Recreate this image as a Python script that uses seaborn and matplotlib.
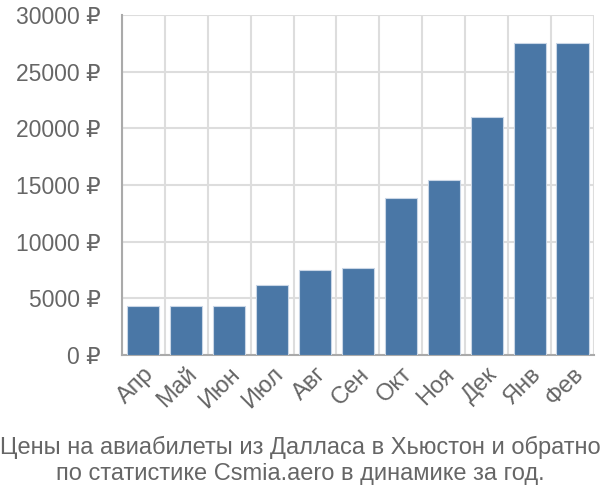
import matplotlib
matplotlib.use('Agg')
import matplotlib.pyplot as plt
import seaborn as sns
import pandas as pd
from matplotlib.ticker import FuncFormatter, MultipleLocator

# данные
months = ['Апр', 'Май', 'Июн', 'Июл', 'Авг', 'Сен', 'Окт', 'Ноя', 'Дек', 'Янв', 'Фев']
prices = [4300, 4300, 4300, 6180, 7480, 7680, 13850, 15430, 21000, 27500, 27500]
title_lines = ['Цены на авиабилеты из Далласа в Хьюстон и обратно',
               'по статистике Csmia.aero в динамике за год.']

sns.set_style('white')
plt.rcParams['font.family'] = ['Liberation Sans', 'DejaVu Sans']

df = pd.DataFrame({'month': months, 'price': prices})

fig = plt.figure(figsize=(6, 5), dpi=100)
ax = fig.add_axes([0.203, 0.29, 0.787, 0.68])
sns.barplot(data=df, x='month', y='price', color='#4a77a6', saturation=1,
            width=0.75, edgecolor='#c9d6e6', linewidth=0.8, ax=ax, zorder=3)

ax.set_xlim(-0.5, len(months) - 0.5)
ax.set_ylim(0, 30000)
ax.yaxis.set_major_locator(MultipleLocator(5000))
ax.yaxis.set_major_formatter(FuncFormatter(lambda v, p: f'{int(v)} ₽'))

# вертикальная сетка по границам категорий
ax.set_xticks([i - 0.5 for i in range(len(months) + 1)], minor=True)
ax.grid(True, which='minor', axis='x', color='#dddddd', linewidth=1.5, zorder=0)
ax.grid(True, which='major', axis='y', color='#dddddd', linewidth=1.5, zorder=0)
ax.tick_params(axis='x', which='minor', length=13, color='#dddddd', width=1.5)
ax.tick_params(axis='x', which='major', length=0, labelsize=17, labelcolor='#666666', pad=6)
ax.tick_params(axis='y', length=14, color='#dddddd', width=1.5, labelsize=16.5,
               labelcolor='#666666', pad=1)
plt.setp(ax.get_xticklabels(), rotation=45, ha='right', rotation_mode='anchor')

for s in ['top', 'right']:
    ax.spines[s].set_visible(False)
ax.spines['left'].set_color('#aaaaaa')
ax.spines['left'].set_linewidth(1.5)
ax.spines['bottom'].set_color('#aaaaaa')
ax.spines['bottom'].set_linewidth(1.5)
ax.set_xlabel('')
ax.set_ylabel('')

fig.text(0.5, 0.105, title_lines[0], ha='center', va='center', fontsize=17, color='#666666')
fig.text(0.5, 0.052, title_lines[1], ha='center', va='center', fontsize=17, color='#666666')

fig.savefig('out.png', dpi=100)
